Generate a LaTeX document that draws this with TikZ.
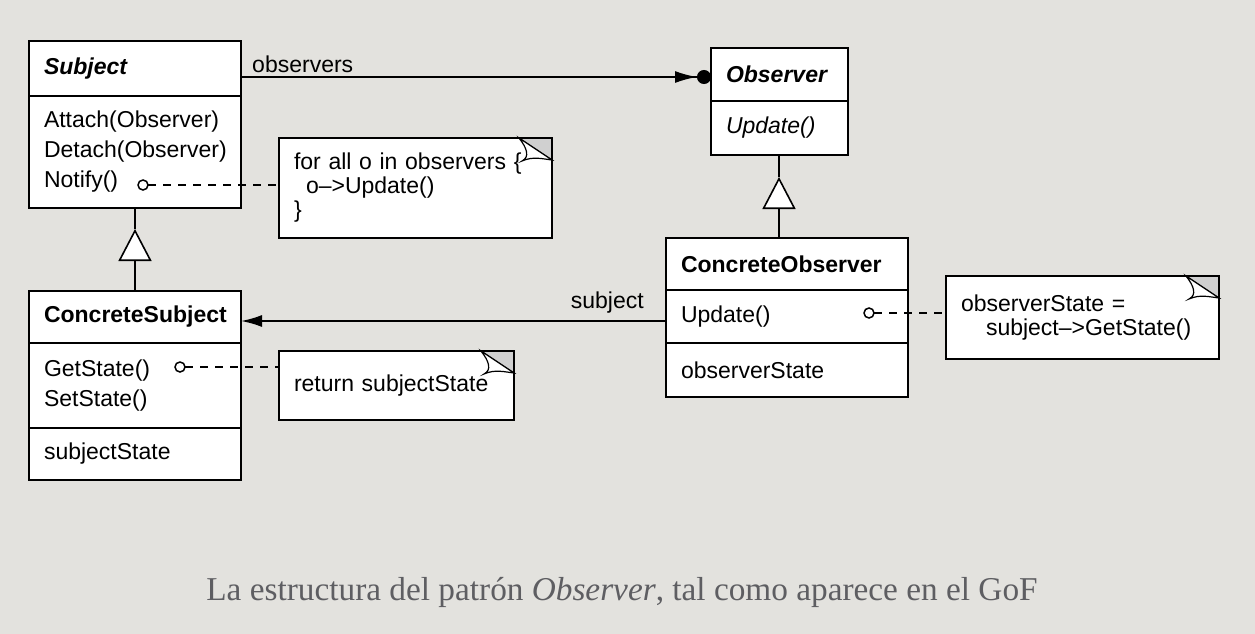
\documentclass[tikz,border=0pt]{standalone}
\usepackage{fontspec}
\setsansfont{Liberation Sans}
\newfontfamily\captionfont{Liberation Serif}
\usepackage{tikz}
\usetikzlibrary{arrows.meta,positioning,calc}
\definecolor{paper}{HTML}{E3E2DE}
\definecolor{foldgray}{HTML}{D0D0D0}
\definecolor{captiongray}{HTML}{5E5E62}
\tikzset{
  >=Latex,
  every node/.style={font=\sffamily\fontsize{23}{30}\selectfont,text=black},
  cls/.style={draw=black,fill=white,line width=1.8pt,outer sep=0pt,inner xsep=15pt,inner ysep=0pt,align=left},
  clstitle/.style={cls,font=\sffamily\bfseries\fontsize{23}{30}\selectfont},
  note/.style={cls,font=\sffamily\fontsize{23}{24}\selectfont},
  dot/.style={circle,draw=black,fill=white,line width=1.5pt,minimum size=10pt,inner sep=0pt,outer sep=0pt},
  assoc/.style={line width=1.8pt,draw=black},
  link/.style={line width=1.5pt,dash pattern=on 8pt off 7pt},
  gen/.style={assoc,-{Triangle[length=32pt,width=33pt,fill=white,line width=1.6pt]}},
  navi/.style={assoc,-{Latex[length=21pt,width=12pt]}},
  aggr/.style={assoc,-{Latex[length=22pt,width=12pt]Circle[length=14pt]}},
  fold/.style={line width=1.2pt}
}
\begin{document}
\begin{tikzpicture}[x=1pt,y=-1pt]
  \fill[paper] (0,0) rectangle (1255,634);
  \useasboundingbox (0,0) rectangle (1255,634);

  % Subject
  \node[clstitle,text width=182pt,minimum height=55pt,anchor=north west] (subject) at (29,41) {\textit{Subject}};
  \node[cls,text width=182pt,minimum height=112pt,below=0pt of subject] (subjectOps) {Attach(Observer)\\Detach(Observer)\\Notify()};

  % Observer
  \node[clstitle,text width=107pt,minimum height=53pt,anchor=north west] (observer) at (711,48) {\textit{Observer}};
  \node[cls,text width=107pt,minimum height=54pt,below=0pt of observer] (observerOps) {\textit{Update()}};

  % ConcreteSubject
  \node[clstitle,text width=182pt,minimum height=52pt,anchor=north west] (csTitle) at (29,291) {ConcreteSubject};
  \node[cls,text width=182pt,minimum height=85pt,below=0pt of csTitle] (csOps) {GetState()\\SetState()};
  \node[cls,text width=182pt,minimum height=52pt,below=0pt of csOps] (csAttrs) {subjectState};

  % ConcreteObserver
  \node[clstitle,text width=212pt,minimum height=52pt,anchor=north west] (coTitle) at (666,238) {ConcreteObserver};
  \node[cls,text width=212pt,minimum height=53pt,below=0pt of coTitle] (coOps) {Update()};
  \node[cls,text width=212pt,minimum height=54pt,below=0pt of coOps] (coAttrs) {observerState};

  % notes
  \node[note,text width=243pt,minimum height=100pt,anchor=north west] (note1) at (279,138) {for all o in observers \{\\\hspace*{12pt}o\textendash{}>Update()\\\}};
  \node[note,text width=205pt,minimum height=69pt,anchor=north west] (note2) at (279,351) {return subjectState};
  \node[note,text width=243pt,minimum height=83pt,anchor=north west] (note3) at (946,276) {observerState =\\\hspace*{25pt}subject\textendash{}>GetState()};

  \foreach \n in {note1,note2,note3} {
    \fill[foldgray] ($(\n.north east)+(-33,0)$) -- (\n.north east) -- ($(\n.north east)+(0,22)$) -- cycle;
    \draw[line width=1.8pt] ($(\n.north east)+(-40,0)$) -- (\n.north east) -- ($(\n.north east)+(0,30)$);
    \draw[fold] ($(\n.north east)+(-33,0)$) -- ($(\n.north east)+(0,22)$);
    \draw[fold,fill=white] ($(\n.north east)+(-33,0)$) .. controls ($(\n.north east)+(-25,10)$) and ($(\n.north east)+(-22,19)$) .. ($(\n.north east)+(-30,23)$)
      .. controls ($(\n.north east)+(-19,18)$) and ($(\n.north east)+(-9,21)$) .. ($(\n.north east)+(0,22)$) -- cycle;
  }

  % note anchors
  \node[dot] (notifyDot) at (143,185) {};
  \node[dot] (getStateDot) at (180,367) {};
  \node[dot] (updateDot) at (869,313) {};
  \draw[link] (notifyDot) -- (notifyDot -| note1.west);
  \draw[link] (getStateDot) -- (getStateDot -| note2.west);
  \draw[link] (updateDot) -- (updateDot -| note3.west);

  % associations
  \draw[aggr] ([yshift=-8.5pt]subject.east) -- ([yshift=-8.5pt]subject.east -| observer.west)
    node[pos=0,anchor=base west,xshift=7pt,yshift=4pt] {observers};
  \draw[navi] ([yshift=-4.5pt]coOps.west) -- ([yshift=-4.5pt]coOps.west -| csTitle.east)
    node[pos=0,anchor=base east,xshift=-18pt,yshift=13pt] {subject};

  % generalizations
  \draw[gen] (csTitle.north) -- ([yshift=-21pt]subjectOps.south);
  \draw[assoc] ([yshift=-21pt]subjectOps.south) -- (subjectOps.south);
  \coordinate (obsFoot) at ([xshift=-0.5pt]observerOps.south);
  \draw[gen] (coTitle.north -| obsFoot) -- ([yshift=-22pt]obsFoot);
  \draw[assoc] ([yshift=-22pt]obsFoot) -- (obsFoot);

  \node[font=\captionfont\fontsize{33.3}{40}\selectfont,text=captiongray] (caption) at (622,592) {La estructura del patrón \textit{Observer}, tal como aparece en el GoF};
\end{tikzpicture}
\end{document}
